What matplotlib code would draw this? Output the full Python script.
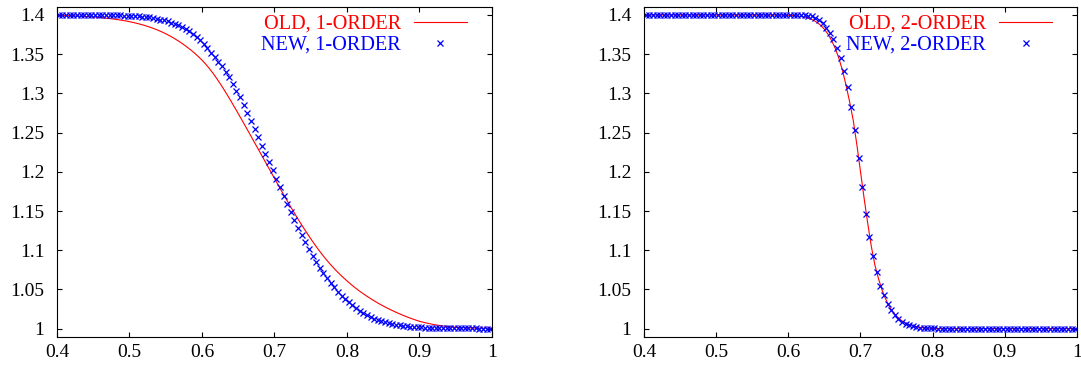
import matplotlib
matplotlib.use('Agg')
import matplotlib.pyplot as plt
from matplotlib.ticker import FormatStrFormatter, MultipleLocator
import numpy as np

# x grids: solid "OLD" curves every 0.005 from 0.4 to 1, "NEW" points at cell centres
x_old = np.round(np.linspace(0.4, 1.0, 121), 4)
x_new = np.round(np.linspace(0.4025, 0.9975, 120), 4)

# left panel, 1-order
old_1 = [1.3995, 1.3994, 1.3993, 1.3992, 1.3990, 1.3988, 1.3986, 1.3984, 1.3981, 1.3978,
         1.3975, 1.3971, 1.3967, 1.3962, 1.3957, 1.3952, 1.3946, 1.3939, 1.3932, 1.3924,
         1.3915, 1.3905, 1.3894, 1.3882, 1.3869, 1.3855, 1.3839, 1.3822, 1.3803, 1.3783,
         1.3761, 1.3737, 1.3711, 1.3683, 1.3653, 1.3621, 1.3587, 1.3551, 1.3512, 1.3470,
         1.3425, 1.3375, 1.3320, 1.3260, 1.3195, 1.3126, 1.3054, 1.2979, 1.2902, 1.2823,
         1.2743, 1.2662, 1.2580, 1.2498, 1.2415, 1.2332, 1.2249, 1.2166, 1.2083, 1.2000,
         1.1917, 1.1834, 1.1752, 1.1671, 1.1591, 1.1512, 1.1435, 1.1360, 1.1287, 1.1216,
         1.1147, 1.1080, 1.1016, 1.0955, 1.0897, 1.0842, 1.0790, 1.0741, 1.0695, 1.0651,
         1.0609, 1.0569, 1.0531, 1.0495, 1.0461, 1.0429, 1.0398, 1.0369, 1.0341, 1.0314,
         1.0289, 1.0265, 1.0242, 1.0220, 1.0199, 1.0179, 1.0160, 1.0142, 1.0125, 1.0109,
         1.0094, 1.0082, 1.0071, 1.0061, 1.0052, 1.0044, 1.0037, 1.0031, 1.0026, 1.0022,
         1.0018, 1.0015, 1.0013, 1.0011, 1.0010, 1.0009, 1.0008, 1.0007, 1.0007, 1.0007,
         1.0007]
new_1 = [1.4000, 1.4000, 1.4000, 1.4000, 1.4000, 1.4000, 1.4000, 1.4000, 1.4000, 1.4000,
         1.4000, 1.4000, 1.4000, 1.4000, 1.3998, 1.3997, 1.3996, 1.3995, 1.3993, 1.3991,
         1.3989, 1.3986, 1.3983, 1.3980, 1.3975, 1.3969, 1.3961, 1.3952, 1.3942, 1.3931,
         1.3918, 1.3903, 1.3886, 1.3867, 1.3845, 1.3821, 1.3794, 1.3758, 1.3720, 1.3678,
         1.3630, 1.3575, 1.3515, 1.3460, 1.3405, 1.3345, 1.3278, 1.3205, 1.3122, 1.3037,
         1.2950, 1.2853, 1.2753, 1.2652, 1.2550, 1.2442, 1.2335, 1.2230, 1.2122, 1.2018,
         1.1908, 1.1802, 1.1695, 1.1590, 1.1485, 1.1385, 1.1283, 1.1190, 1.1100, 1.1010,
         1.0925, 1.0845, 1.0772, 1.0705, 1.0640, 1.0582, 1.0527, 1.0473, 1.0422, 1.0376,
         1.0335, 1.0296, 1.0260, 1.0228, 1.0198, 1.0172, 1.0149, 1.0128, 1.0110, 1.0094,
         1.0080, 1.0068, 1.0058, 1.0049, 1.0042, 1.0036, 1.0031, 1.0026, 1.0022, 1.0019,
         1.0016, 1.0014, 1.0012, 1.0010, 1.0009, 1.0008, 1.0007, 1.0006, 1.0005, 1.0004,
         1.0004, 1.0003, 1.0003, 1.0002, 1.0002, 1.0002, 1.0001, 1.0001, 1.0001, 1.0001]

# right panel, 2-order
old_2 = [1.4000, 1.4000, 1.4000, 1.4000, 1.4000, 1.4000, 1.4000, 1.4000, 1.4000, 1.4000,
         1.4000, 1.4000, 1.4000, 1.4000, 1.4000, 1.4000, 1.4000, 1.4000, 1.4000, 1.4000,
         1.4000, 1.4000, 1.4000, 1.4000, 1.4000, 1.4000, 1.4000, 1.4000, 1.4000, 1.4000,
         1.4000, 1.4000, 1.4000, 1.4000, 1.4000, 1.4000, 1.4000, 1.3999, 1.3998, 1.3997,
         1.3996, 1.3994, 1.3990, 1.3985, 1.3978, 1.3968, 1.3953, 1.3933, 1.3905, 1.3867,
         1.3818, 1.3755, 1.3675, 1.3575, 1.3450, 1.3295, 1.3105, 1.2890, 1.2655, 1.2345,
         1.2005, 1.1665, 1.1345, 1.1050, 1.0810, 1.0635, 1.0490, 1.0375, 1.0283, 1.0212,
         1.0158, 1.0116, 1.0084, 1.0060, 1.0042, 1.0029, 1.0019, 1.0012, 1.0008, 1.0005,
         1.0003, 1.0002, 1.0001, 1.0000, 1.0000, 1.0000, 1.0000, 1.0000, 1.0000, 1.0000,
         1.0000, 1.0000, 1.0000, 1.0000, 1.0000, 1.0000, 1.0000, 1.0000, 1.0000, 1.0000,
         1.0000, 1.0000, 1.0000, 1.0000, 1.0000, 1.0000, 1.0000, 1.0000, 1.0000, 1.0000,
         1.0000, 1.0000, 1.0000, 1.0000, 1.0000, 1.0000, 1.0000, 1.0000, 1.0000, 1.0000,
         1.0000]
new_2 = [1.4000, 1.4000, 1.4000, 1.4000, 1.4000, 1.4000, 1.4000, 1.4000, 1.4000, 1.4000,
         1.4000, 1.4000, 1.4000, 1.4000, 1.4000, 1.4000, 1.4000, 1.4000, 1.4000, 1.4000,
         1.4000, 1.4000, 1.4000, 1.4000, 1.4000, 1.4000, 1.4000, 1.4000, 1.4000, 1.4000,
         1.4000, 1.4000, 1.4000, 1.4000, 1.4000, 1.4000, 1.4000, 1.4000, 1.4000, 1.4000,
         1.4000, 1.3999, 1.3998, 1.3997, 1.3994, 1.3989, 1.3981, 1.3965, 1.3937, 1.3895,
         1.3838, 1.3770, 1.3692, 1.3580, 1.3450, 1.3280, 1.3077, 1.2828, 1.2527, 1.2180,
         1.1812, 1.1460, 1.1164, 1.0923, 1.0720, 1.0550, 1.0423, 1.0317, 1.0233, 1.0170,
         1.0122, 1.0088, 1.0062, 1.0043, 1.0030, 1.0020, 1.0013, 1.0008, 1.0005, 1.0003,
         1.0002, 1.0001, 1.0000, 1.0000, 1.0000, 1.0000, 1.0000, 1.0000, 1.0000, 1.0000,
         1.0000, 1.0000, 1.0000, 1.0000, 1.0000, 1.0000, 1.0000, 1.0000, 1.0000, 1.0000,
         1.0000, 1.0000, 1.0000, 1.0000, 1.0000, 1.0000, 1.0000, 1.0000, 1.0000, 1.0000,
         1.0000, 1.0000, 1.0000, 1.0000, 1.0000, 1.0000, 1.0000, 1.0000, 1.0000, 1.0000]

labels_1 = ['OLD, 1-ORDER', 'NEW, 1-ORDER']
labels_2 = ['OLD, 2-ORDER', 'NEW, 2-ORDER']

plt.rcParams['font.family'] = ['Liberation Serif', 'DejaVu Serif']
plt.rcParams['font.size'] = 14

fig = plt.figure(figsize=(10.81, 3.71), dpi=100)
ax1 = fig.add_axes([0.0527, 0.0903, 0.4024, 0.8900])
ax2 = fig.add_axes([0.5957, 0.0903, 0.4006, 0.8900])

for ax, y_old, y_new, labels in [(ax1, old_1, new_1, labels_1), (ax2, old_2, new_2, labels_2)]:
    ax.plot(x_old, y_old, color='#ff0000', lw=0.8, label=labels[0])
    ax.plot(x_new, y_new, 'x', color='#0000ff', ms=4.2, mew=0.9, label=labels[1])

    ax.set_xlim(0.4, 1.0)
    ax.set_ylim(0.9887, 1.4098)
    ax.xaxis.set_major_locator(MultipleLocator(0.1))
    ax.yaxis.set_major_locator(MultipleLocator(0.05))
    ax.xaxis.set_major_formatter(FormatStrFormatter('%g'))
    ax.yaxis.set_major_formatter(FormatStrFormatter('%g'))
    ax.tick_params(direction='in', top=True, right=True, length=3.6, width=0.8)
    ax.tick_params(axis='y', pad=9)
    ax.tick_params(axis='x', pad=5)
    for s in ax.spines.values():
        s.set_linewidth(0.8)

    # gnuplot style key: text first, sample on the right, coloured text
    leg = ax.legend(loc='upper right', bbox_to_anchor=(0.942, 0.978), frameon=False,
                    markerfirst=False, handlelength=2.6, handletextpad=0.64,
                    borderpad=0, borderaxespad=0, labelspacing=0.1, numpoints=1,
                    fontsize=14.6)
    for t, c in zip(leg.get_texts(), ['#ff0000', '#0000ff']):
        t.set_color(c)

fig.savefig('out.png', dpi=100)
